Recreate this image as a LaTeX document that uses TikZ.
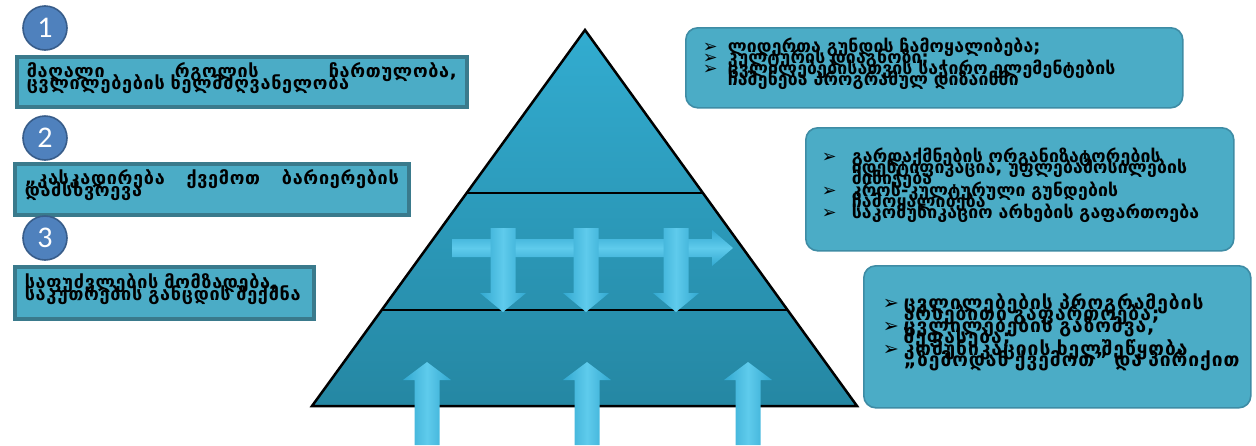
\documentclass[tikz,border=0pt]{standalone}
\usepackage{fontspec}
\setmainfont{DejaVu Sans}
\newfontfamily\numfont{Carlito}
\usepackage{tikz}
\usetikzlibrary{calc}
\usetikzlibrary{positioning}

\definecolor{boxfill}{RGB}{75,172,198}
\definecolor{boxedge}{RGB}{58,122,140}
\definecolor{roundedge}{RGB}{62,140,165}
\definecolor{numfill}{RGB}{79,129,189}
\definecolor{numedge}{RGB}{56,93,138}
\definecolor{pyrtop}{RGB}{50,172,208}
\definecolor{pyrbot}{RGB}{37,135,163}
\definecolor{arrowside}{RGB}{50,168,208}
\definecolor{arrowmid}{RGB}{95,203,236}

% text lines of fixed height
\newlength\bulind
\newlength\linegap
\newcommand{\linestrut}{\rule[-0.28\linegap]{0pt}{0.72\linegap}}
\newcommand{\tightlines}[1]{\setlength\linegap{#1}\baselineskip=0pt\lineskip=0pt\lineskiplimit=16000pt\parskip=0pt\relax}
\newcommand{\bul}[1]{\par\noindent\smash{\makebox[\bulind][l]{\mdseries ➢}}\smash{#1}\linestrut}
\newcommand{\cont}[1]{\par\noindent\hspace*{\bulind}\smash{#1}\linestrut}
\newcommand{\plain}[1]{\par\noindent\smash{#1}\linestrut}

% block arrows, x of the shaft centre as argument
\newcommand{\blockup}[1]{%
	\path [uparr] (#1-12.5,445) -- (#1-12.5,380) -- (#1-24,380) -- (#1,362)
		-- (#1+24,380) -- (#1+12.5,380) -- (#1+12.5,445) -- cycle;}
\newcommand{\blockdown}[1]{%
	\path [uparr] (#1-12.5,228) -- (#1-12.5,293) -- (#1-23,293) -- (#1,312)
		-- (#1+23,293) -- (#1+12.5,293) -- (#1+12.5,228) -- cycle;}

\begin{document}
\begin{tikzpicture}
[
	x = 0.5pt, y = -0.5pt,
	num/.style	= {circle, draw = numedge, fill = numfill, line width = 0.8pt, minimum size = 22pt, inner sep = 0pt, text = white, font = \numfont\fontsize{15}{15}\selectfont},
	geo/.style	= {font = \fontsize{9}{8.2}\selectfont\bfseries\addfontfeatures{LetterSpace=4}, align = left, execute at begin node = \tightlines{8.2pt}},
	leftbox/.style	= {geo, rectangle, draw = boxedge, fill = boxfill, line width = 1.8pt, anchor = north west, inner xsep = 5pt, inner ysep = 2pt},
	rightbox/.style	= {geo, rectangle, rounded corners = 6pt, draw = roundedge, fill = boxfill, line width = 0.8pt, anchor = north west, inner ysep = 3pt},
	narrow/.style	= {font = \fontsize{8.8}{7.7}\selectfont\bfseries\addfontfeatures{LetterSpace=1}, execute at begin node = \tightlines{7.7pt}},
	wide/.style	= {font = \fontsize{9.6}{8}\selectfont\bfseries\addfontfeatures{LetterSpace=5}, execute at begin node = \tightlines{8pt}},
	pyr/.style	= {line width = 1.25pt, black, line join = miter},
	uparr/.style	= {left color = arrowside, right color = arrowside, middle color = arrowmid},
	sidearr/.style	= {top color = arrowside, bottom color = arrowside, middle color = arrowmid},
]

	\useasboundingbox (0,0) rectangle (1256,445);

	% pyramid
	\coordinate (apex) at (585,30);
	\coordinate (bl) at (312,406);
	\coordinate (br) at (857,406);
	\coordinate (l1) at ($(apex)!0.4335!(bl)$);
	\coordinate (r1) at ($(apex)!0.4335!(br)$);
	\coordinate (l2) at ($(apex)!0.7447!(bl)$);
	\coordinate (r2) at ($(apex)!0.7447!(br)$);

	\shade [top color = pyrtop, bottom color = pyrbot] (apex) -- (bl) -- (br) -- cycle;
	\draw [pyr] (l1) -- (r1);
	\draw [pyr] (l2) -- (r2);
	\draw [pyr] (apex) -- (bl) -- (br) -- cycle;

	% arrows
	\path [sidearr] (452,239) -- (712,239) -- (712,230) -- (733,248) -- (712,266) -- (712,257) -- (452,257) -- cycle;
	\blockdown{503}
	\blockdown{586}
	\blockdown{676}
	%
	\blockup{427}
	\blockup{587}
	\blockup{748}

	% left side
	\node (num1) [num] at (45,28) {1};
	\node (box1) [leftbox, minimum width = 225pt, minimum height = 25pt, text width = 215pt] at (15,55)
		{\plain{\makebox[\linewidth]{მაღალი\hfill რგოლის\hfill ჩართულობა,}}
		\plain{ცვლილებების ხელმძღვანელობა}};
	%
	\node (num2) [num] at (45,138) {2};
	\node (box2) [leftbox, minimum width = 197pt, minimum height = 25.5pt, text width = 187pt] at (13,162)
		{\plain{\makebox[\linewidth]{„კასკადირება\hfill ქვემოთ\hfill ბარიერების}}
		\plain{დამსხვრევა}};
	%
	\node (num3) [num] at (45,238) {3};
	\node (box3) [leftbox, minimum width = 149.5pt, minimum height = 26pt, text width = 139.5pt] at (13,265)
		{\plain{საფუძვლების მომზადება,}
		\plain{საკუთრების განცდის შექმნა}};

	% right side
	\node (topbox) [rightbox, narrow, minimum width = 248.5pt, minimum height = 40pt, inner xsep = 8.5pt, text width = 231.5pt] at (685,27)
		{\setlength\bulind{12.5pt}%
		\bul{ლიდერთა გუნდის ჩამოყალიბება;}
		\bul{კულტურის დიაგნოზი;}
		\bul{ცვლილებებისათვის საჭირო ელემენტების}
		\cont{ჩაშენება პროგრამულ დიზაინში}};
	%
	\node (midbox) [rightbox, narrow, minimum width = 214pt, minimum height = 61.5pt, inner xsep = 8pt, text width = 198pt] at (805,127)
		{\setlength\bulind{15pt}%
		\bul{გარდაქმნების ორგანიზატორების}
		\cont{იდენტიფიკაცია, უფლებამოსილების}
		\cont{მინიჭება}
		\bul{კროს-კულტურული გუნდების}
		\cont{ჩამოყალიბება}
		\bul{საკომუნიკაციო არხების გაფართოება}};
	%
	\node (lowbox) [rightbox, wide, minimum width = 193.5pt, minimum height = 71pt, inner xsep = 9.5pt, text width = 174.5pt] at (863,265)
		{\setlength\bulind{10.5pt}%
		\bul{ცვლილებების პროგრამების}
		\cont{არსებითი გაფართოება;}
		\bul{ცვლილებების გაზომვა,}
		\cont{შეფასება;}
		\bul{კომუნიკაციის ხელშეწყობა}
		\cont{„ზემოდან ქვემოთ” და პირიქით}};

\end{tikzpicture}
\end{document}
